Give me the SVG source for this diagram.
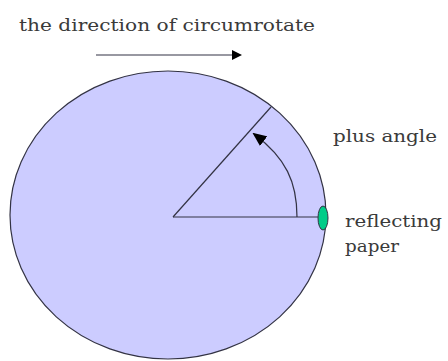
<svg xmlns="http://www.w3.org/2000/svg" width="448" height="361" viewBox="0 0 448 361">
<defs>
<marker id="ah" markerWidth="10" markerHeight="10" refX="8" refY="5" orient="auto" markerUnits="userSpaceOnUse"><path d="M0,0 L10,5 L0,10 Z" fill="#000"/></marker>
<marker id="ah2" markerWidth="14" markerHeight="12" refX="12" refY="6" orient="auto" markerUnits="userSpaceOnUse"><path d="M0,0 L14,6 L0,12 Z" fill="#000"/></marker>
</defs>
<style>
text{font-family:"DejaVu Serif","Liberation Serif",serif;font-size:16.5px;fill:#3a3a3a}
.ln{stroke:#334;stroke-width:1.2;fill:none}
</style>
<rect width="448" height="361" fill="#fff"/>
<g id="disc">
<ellipse cx="168" cy="215" rx="158" ry="144" fill="#ccccff" stroke="#334" stroke-width="1.2"/>
</g>
<g id="connectors">
<line class="ln" x1="96" y1="55" x2="240" y2="55" marker-end="url(#ah)" stroke="#000"/>
<line class="ln" x1="173" y1="217" x2="318" y2="217"/>
<line class="ln" x1="173" y1="217" x2="271" y2="107"/>
<path class="ln" d="M297,217 C297,182 286,158 254,134" marker-end="url(#ah2)"/>
</g>
<g id="reflector">
<ellipse cx="323" cy="218" rx="5" ry="12" fill="#00cc88" stroke="#334" stroke-width="1"/>
</g>
<g id="labels">
<text x="19" y="31" textLength="296" lengthAdjust="spacingAndGlyphs">the direction of circumrotate</text>
<text x="333" y="142" textLength="104" lengthAdjust="spacingAndGlyphs">plus angle</text>
<text x="345" y="227" textLength="97" lengthAdjust="spacingAndGlyphs">reflecting</text>
<text x="345" y="252" textLength="54" lengthAdjust="spacingAndGlyphs">paper</text>
</g>
</svg>
